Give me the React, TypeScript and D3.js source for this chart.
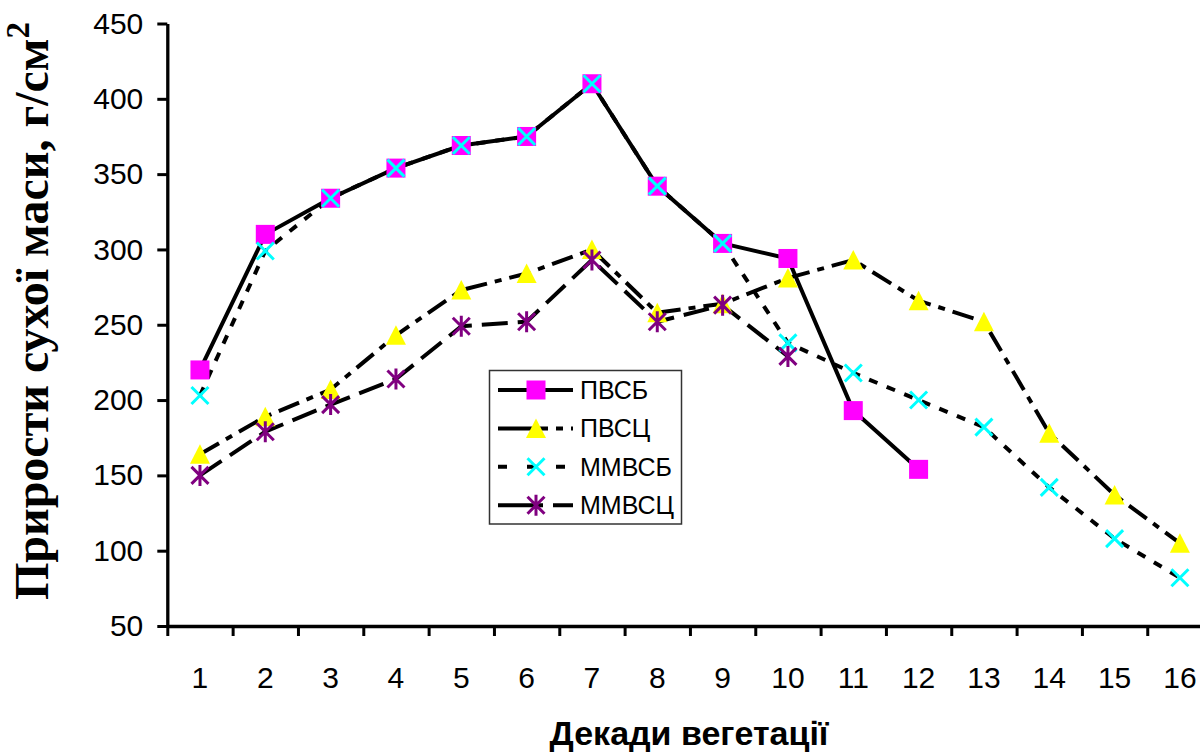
import React, { useEffect, useRef } from 'react';
import * as d3 from 'd3';

// decades of vegetation
const decades = [1, 2, 3, 4, 5, 6, 7, 8, 9, 10, 11, 12, 13, 14, 15, 16];
const yTicks = [50, 100, 150, 200, 250, 300, 350, 400, 450];

const pvsb = [220, 310, 334, 354, 369, 375, 410, 342, 304, 294, 193, 154];
const pvsc = [164, 189, 207, 243, 273, 284, 300, 258, 264, 281, 293, 266, 252, 178, 137, 105];
const mmvsb = [203, 299, 334, 354, 369, 375, 410, 342, 304, 238, 218, 200, 182, 142, 108, 82];
const mmvsc = [150, 179, 197, 214, 249, 252, 293, 252, 263, 229];

type Marker = 'square' | 'triangle' | 'cross' | 'star';

interface Series {
  name: string;
  values: number[];
  dash: string | null;
  legendDash: string | null;
  marker: Marker;
  color: string;
}

const series: Series[] = [
  { name: 'ПВСБ', values: pvsb, dash: null, legendDash: null, marker: 'square', color: '#ff00ff' },
  { name: 'ПВСЦ', values: pvsc, dash: '22,8,7,8', legendDash: '50,8,7,8', marker: 'triangle', color: '#ffff00' },
  { name: 'ММВСБ', values: mmvsb, dash: '9,10', legendDash: '9,20,9,20', marker: 'cross', color: '#00ffff' },
  { name: 'ММВСЦ', values: mmvsc, dash: '26,10', legendDash: '45,10,30', marker: 'star', color: '#800080' },
];

const WIDTH = 1200;
const HEIGHT = 755;
const SANS = '"Liberation Sans", Arial, sans-serif';
const SERIF = '"Liberation Serif", "Times New Roman", serif';

const drawMarker = (
  g: d3.Selection<SVGGElement, unknown, null, undefined>,
  kind: Marker,
  color: string,
  cx: number,
  cy: number
) => {
  if (kind === 'square') {
    g.append('rect')
      .attr('x', cx - 9.5).attr('y', cy - 9.5)
      .attr('width', 19).attr('height', 19)
      .attr('fill', color);
  } else if (kind === 'triangle') {
    g.append('path')
      .attr('d', `M${cx},${cy - 10}L${cx + 10},${cy + 9.5}L${cx - 10},${cy + 9.5}Z`)
      .attr('fill', color);
  } else {
    const s = 8.5;
    const p = `M${cx - s},${cy - s}L${cx + s},${cy + s}M${cx + s},${cy - s}L${cx - s},${cy + s}`
      + (kind === 'star' ? `M${cx},${cy - 10.5}L${cx},${cy + 10.5}` : '');
    g.append('path')
      .attr('d', p)
      .attr('fill', 'none')
      .attr('stroke', color)
      .attr('stroke-width', 3);
  }
};

const GrowthChart: React.FC = () => {
  const svgRef = useRef<SVGSVGElement>(null);

  useEffect(() => {
    const svg = d3.select(svgRef.current);
    svg.selectAll('*').remove();

    const x0 = 167.3;
    const step = 65.33;
    const x = d3.scaleBand<number>()
      .domain(decades)
      .range([x0, x0 + step * decades.length])
      .padding(0);
    const xEdge = d3.scaleLinear()
      .domain([0, decades.length])
      .range([x0, x0 + step * decades.length]);
    const y = d3.scaleLinear().domain([50, 450]).range([626, 23.5]);
    const cx = (d: number) => (x(d) || 0) + x.bandwidth() / 2;

    // axes
    const yAxis = svg.append('g')
      .attr('transform', `translate(${x0},0)`)
      .call(d3.axisLeft(y).tickValues(yTicks).tickSize(10).tickSizeOuter(0).tickPadding(14));
    yAxis.select('.domain').attr('stroke', '#000').attr('stroke-width', 3.3);
    yAxis.selectAll('.tick line').attr('stroke', '#000').attr('stroke-width', 3);
    yAxis.selectAll('.tick text')
      .attr('fill', '#000')
      .attr('font-family', SANS)
      .attr('font-size', 30);

    const xAxis = svg.append('g')
      .attr('transform', `translate(0,${y(50)})`)
      .call(d3.axisBottom(xEdge).tickValues(d3.range(0, decades.length)).tickSize(10).tickSizeOuter(0).tickFormat(() => ''));
    xAxis.select('.domain').attr('stroke', '#000').attr('stroke-width', 3.3);
    xAxis.selectAll('.tick line').attr('stroke', '#000').attr('stroke-width', 3);

    svg.append('g')
      .selectAll('text')
      .data(decades)
      .enter().append('text')
      .attr('x', d => cx(d))
      .attr('y', 688)
      .attr('text-anchor', 'middle')
      .attr('font-family', SANS)
      .attr('font-size', 30)
      .text(d => d);

    // axis titles
    svg.append('text')
      .attr('x', 689)
      .attr('y', 745)
      .attr('text-anchor', 'middle')
      .attr('font-family', SANS)
      .attr('font-weight', 'bold')
      .attr('font-size', 34)
      .text('Декади вегетації');

    const yTitle = svg.append('text')
      .attr('transform', 'translate(48,311) rotate(-90)')
      .attr('text-anchor', 'middle')
      .attr('font-family', SERIF)
      .attr('font-weight', 'bold')
      .attr('font-size', 48);
    yTitle.append('tspan').text('Прирости сухої маси, г/см');
    yTitle.append('tspan').attr('dy', -19).attr('font-size', 33).text('2');

    // lines
    const line = d3.line<number>()
      .x((_d, i) => cx(decades[i]))
      .y(d => y(d));

    series.forEach(s => {
      svg.append('path')
        .datum(s.values)
        .attr('d', line)
        .attr('fill', 'none')
        .attr('stroke', '#000')
        .attr('stroke-width', 4)
        .attr('stroke-dasharray', s.dash)
        .attr('stroke-linejoin', 'round');
    });

    // markers
    series.forEach(s => {
      const mg = svg.append('g');
      s.values.forEach((v, i) => drawMarker(mg, s.marker, s.color, cx(decades[i]), y(v)));
    });

    // legend
    const lg = svg.append('g');
    lg.append('rect')
      .attr('x', 489.5).attr('y', 370.5)
      .attr('width', 192).attr('height', 153.5)
      .attr('fill', '#fff')
      .attr('stroke', '#333')
      .attr('stroke-width', 1.5);
    series.forEach((s, i) => {
      const ry = 390 + i * 38.4;
      lg.append('line')
        .attr('x1', 498).attr('x2', 573)
        .attr('y1', ry).attr('y2', ry)
        .attr('stroke', '#000')
        .attr('stroke-width', 4)
        .attr('stroke-dasharray', s.legendDash);
      drawMarker(lg, s.marker, s.color, 536, ry);
      lg.append('text')
        .attr('x', 580)
        .attr('y', ry + 9)
        .attr('font-family', SANS)
        .attr('font-size', 25)
        .text(s.name);
    });
  }, []);

  return (
    <svg
      ref={svgRef}
      width={WIDTH}
      height={HEIGHT}
      style={{ position: 'absolute', left: 0, top: 0, background: '#fff' }}
    />
  );
};

export default function App() {
  return <GrowthChart />;
}
